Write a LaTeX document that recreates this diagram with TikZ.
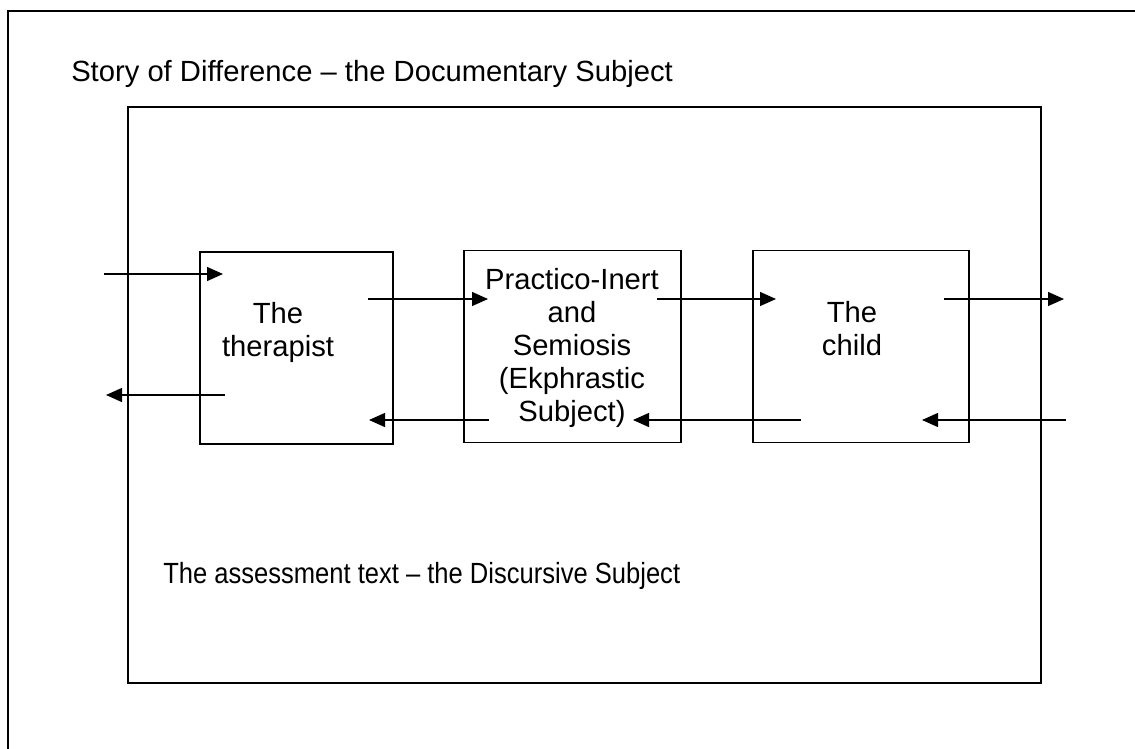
\documentclass[tikz,border=0pt]{standalone}
\usepackage{fontspec}
\usepackage{graphicx}
\setmainfont{Liberation Sans}
\usetikzlibrary{arrows.meta}
\begin{document}
\begin{tikzpicture}[x=0.75pt,y=-0.75pt,
  frameline/.style={line width=1pt},
  boxnode/.style={draw,line width=0.85pt,inner sep=0pt,minimum height=143.5pt},
  txt/.style={inner sep=0pt,font=\fontsize{21.9}{24.75}\selectfont},
  flow/.style={line width=1pt,-{Triangle[length=12pt,width=10.5pt]}}]
\useasboundingbox (0,0) rectangle (1135,749);
\clip (0,0) rectangle (1135,749);
% outer frame (runs past the page)
\draw[frameline] (8,760) -- (8,11) -- (1150,11);
% inner frame
\draw[frameline] (128,107) rectangle (1041,683);
\node[txt,anchor=base west] (title) at (71,82) {Story of Difference – the Documentary Subject};
\node[txt,anchor=base west] (bottom) at (163,583) {\scalebox{0.875}[1]{The assessment text – the Discursive Subject}};
% boxes
\node[boxnode,minimum width=144.75pt,minimum height=144pt] (ther) at (296.5,348) {};
\node[boxnode,minimum width=162.75pt] (mid) at (572.5,346.5) {};
\node[boxnode,minimum width=162pt] (child) at (861,346.5) {};
\node[txt,align=center,anchor=north] (thertxt) at (278,302) {The\\therapist};
\node[txt,align=center,anchor=north] (midtxt) at (572,268) {Practico-Inert\\and\\Semiosis\\(Ekphrastic\\Subject)};
\node[txt,align=center,anchor=north] (childtxt) at (852,301) {The\\child};
% arrow ends
\coordinate (a1s) at (104,274); \coordinate (a1e) at (223,274);
\coordinate (a2s) at (368,299); \coordinate (a2e) at (488,299);
\coordinate (a3s) at (657,299); \coordinate (a3e) at (776,299);
\coordinate (a4s) at (944,299); \coordinate (a4e) at (1064,299);
\coordinate (b1s) at (225,395); \coordinate (b1e) at (106,395);
\coordinate (b2s) at (489,420); \coordinate (b2e) at (369,420);
\coordinate (b3s) at (801,420); \coordinate (b3e) at (633,420);
\coordinate (b4s) at (1066,420); \coordinate (b4e) at (922,420);
\draw[flow] (a1s) -- (a1e);
\draw[flow] (a2s) -- (a2e);
\draw[flow] (a3s) -- (a3e);
\draw[flow] (a4s) -- (a4e);
\draw[flow] (b1s) -- (b1e);
\draw[flow] (b2s) -- (b2e);
\draw[flow] (b3s) -- (b3e);
\draw[flow] (b4s) -- (b4e);
\end{tikzpicture}
\end{document}
